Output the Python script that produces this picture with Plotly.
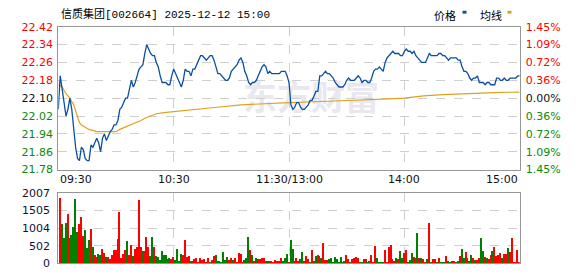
import plotly.graph_objects as go

W, H = 578, 276

# ---------------- data ----------------
title_text = "信质集团[002664] 2025-12-12 15:00"
prev_close = 22.10

# minute index 0..240 (09:30 .. 11:30/13:00 .. 15:00)
price = [
    22.05, 22.20, 22.14, 22.08, 22.02, 22.05, 22.10, 22.05, 21.95, 21.88,
    21.83, 21.82, 21.88, 21.87, 21.83, 21.82, 21.82, 21.89, 21.88, 21.90,
    21.92, 21.90, 21.86, 21.92, 21.94, 21.91, 21.93, 21.95, 21.96, 21.98,
    21.98, 22.00, 22.05, 22.06, 22.08, 22.10, 22.10, 22.14, 22.18, 22.15,
    22.17, 22.20, 22.23, 22.24, 22.25, 22.30, 22.34, 22.32, 22.30, 22.29,
    22.29, 22.26, 22.24, 22.20, 22.17, 22.17, 22.17, 22.16, 22.16, 22.20,
    22.23, 22.21, 22.19, 22.17, 22.15, 22.18, 22.23, 22.22, 22.22, 22.20,
    22.23, 22.23, 22.25, 22.27, 22.29, 22.29, 22.28, 22.27, 22.28, 22.29,
    22.29, 22.27, 22.24, 22.21, 22.21, 22.20, 22.19, 22.18, 22.18, 22.19,
    22.22, 22.23, 22.24, 22.25, 22.27, 22.28, 22.26, 22.22, 22.20, 22.17,
    22.16, 22.17, 22.17, 22.18, 22.20, 22.22, 22.24, 22.25, 22.24, 22.21,
    22.22, 22.21, 22.21, 22.21, 22.21, 22.21, 22.22, 22.22, 22.22, 22.20,
    22.17, 22.07, 22.05, 22.06, 22.08, 22.08, 22.06, 22.05, 22.05, 22.06,
    22.07, 22.09, 22.09, 22.11, 22.13, 22.13, 22.20, 22.20, 22.21, 22.22,
    22.21, 22.21, 22.20, 22.19, 22.17, 22.16, 22.15, 22.15, 22.15, 22.16,
    22.18, 22.19, 22.18, 22.18, 22.18, 22.19, 22.20, 22.19, 22.17, 22.18,
    22.18, 22.17, 22.17, 22.19, 22.22, 22.23, 22.23, 22.24, 22.23, 22.22,
    22.26, 22.28, 22.29, 22.30, 22.31, 22.30, 22.30, 22.30, 22.29, 22.29,
    22.31, 22.32, 22.31, 22.31, 22.30, 22.31, 22.29, 22.28, 22.27, 22.26,
    22.26, 22.26, 22.28, 22.30, 22.29, 22.29, 22.29, 22.29, 22.30, 22.30,
    22.29, 22.29, 22.28, 22.27, 22.28, 22.28, 22.28, 22.28, 22.27, 22.27,
    22.24, 22.22, 22.22, 22.21, 22.19, 22.18, 22.19, 22.19, 22.20, 22.17,
    22.17, 22.17, 22.16, 22.17, 22.17, 22.16, 22.16, 22.16, 22.19, 22.19,
    22.18, 22.18, 22.19, 22.18, 22.18, 22.19, 22.19, 22.19, 22.19, 22.20,
    22.20,
]
price_minutes = list(range(len(price)))

# average-price line, read at selected minutes
avg_minutes = [0, 2, 4, 6, 8, 9, 10, 11, 12, 14, 16, 20, 25, 30, 32, 35, 38, 41,
               43, 45, 48, 51, 55, 60, 80, 95, 107, 120, 140, 165, 172, 180,
               185, 190, 200, 215, 230, 240]
avg_price = [22.16, 22.15, 22.12, 22.10, 22.07, 22.04, 22.01, 21.99, 21.98, 21.97,
             21.96, 21.95, 21.95, 21.95, 21.96, 21.97, 21.98, 21.99, 22.00, 22.01,
             22.02, 22.03, 22.035, 22.04, 22.057, 22.07, 22.076, 22.08, 22.086,
             22.092, 22.097, 22.10, 22.105, 22.11, 22.116, 22.122, 22.126, 22.127]

# volume per minute 1..240 and direction (r = up, g = down)
volume = [
    1852, 1117, 735, 1144, 1416, 735, 799, 1026, 1825, 899,
    1117, 1308, 790, 953, 436, 654, 981, 454, 245, 191,
    272, 245, 409, 300, 191, 191, 109, 245, 381, 381,
    681, 1471, 136, 272, 381, 626, 245, 518, 218, 409,
    463, 1798, 463, 354, 354, 763, 463, 218, 763, 463,
    218, 191, 82, 354, 245, 245, 109, 136, 109, 191,
    82, 409, 54, 272, 245, 654, 191, 218, 54, 54,
    109, 136, 27, 163, 82, 109, 27, 136, 27, 82,
    218, 245, 54, 54, 27, 327, 82, 191, 82, 136,
    82, 163, 27, 300, 272, 27, 82, 163, 736, 381,
    245, 54, 136, 109, 109, 163, 163, 54, 54, 54,
    54, 27, 82, 54, 54, 136, 54, 136, 272, 30,
    654, 409, 54, 136, 54, 109, 327, 54, 218, 109,
    30, 381, 54, 218, 245, 218, 136, 572, 82, 82,
    109, 136, 27, 191, 109, 27, 191, 27, 54, 245,
    109, 27, 109, 163, 191, 163, 27, 27, 109, 109,
    27, 54, 245, 20, 490, 136, 27, 27, 27, 381,
    27, 463, 518, 109, 54, 163, 109, 354, 163, 300,
    381, 27, 82, 300, 191, 136, 872, 136, 163, 109,
    27, 109, 1144, 27, 109, 109, 27, 163, 27, 27,
    27, 218, 54, 27, 54, 54, 27, 54, 218, 409,
    163, 327, 163, 54, 245, 136, 82, 82, 163, 708,
    354, 191, 163, 109, 245, 354, 463, 218, 245, 300,
    136, 272, 272, 436, 327, 708, 20, 20, 381, 20,
]
direction_rows = [
    "rgggrrgggg", "rrrgggrgrr", "ggrrgrrrrr", "rrrrrgrrgr",
    "rrrgrrrggr", "ggggggrgrr", "ggggrrrrgr", "rrrrrrrrgr",
    "rgggggggrr", "grrrrrgggr", "grgrrrrggg", "rrrrrrgggr",
    "ggrrrggrrr", "grgggrgrrr", "gggggggggr", "rgrrrrggrr",
    "ggrrrggggr", "rrrrrgrggr", "rgggrrgrgr", "rgrgrrgrgg",
    "grggrrggrg", "grrggrgrrg", "grgrrgrrrr", "grrgrrrrrr",
]
vol_minutes = list(range(1, 241))

price_ticks = [21.78, 21.86, 21.94, 22.02, 22.10, 22.18, 22.26, 22.34, 22.42]
price_tick_labels = ["21.78", "21.86", "21.94", "22.02", "22.10", "22.18", "22.26", "22.34", "22.42"]
pct_tick_labels = ["1.45%", "1.09%", "0.72%", "0.36%", "0.00%", "0.36%", "0.72%", "1.09%", "1.45%"]
vol_ticks = [0, 502, 1004, 1505, 2007]
vol_tick_labels = ["0", "502", "1004", "1505", "2007"]
time_labels = ["09:30", "10:30", "11:30/13:00", "14:00", "15:00"]
time_label_minutes = [0, 60, 120, 180, 240]

# ---------------- styling ----------------
RED = "#ff0000"
GREEN = "#0a8a0a"
BLUE = "#0b4fa3"
ORANGE = "#e0a21e"
GRID = "#cfcfcf"
BORDER = "#969696"
FONT = "DejaVu Sans"

def tick_color(v):
    if v > prev_close + 1e-9:
        return RED
    if v < prev_close - 1e-9:
        return GREEN
    return "#111111"

left_text = ['<span style="color:%s">%s</span>' % (tick_color(v), s)
             for v, s in zip(price_ticks, price_tick_labels)]
right_text = ['<span style="color:%s">%s</span>' % (tick_color(v), s)
              for v, s in zip(price_ticks, pct_tick_labels)]

direction = "".join(direction_rows)
bar_colors = [RED if d == "r" else "#008000" for d in direction]

x0p, x1p = 58.3 / W, 519.7 / W
py0, py1 = 1 - 171.7 / H, 1 - 21.7 / H
vy0, vy1 = 1 - 270.0 / H, 1 - 196.3 / H

fig = go.Figure()

fig.add_trace(go.Scatter(x=avg_minutes, y=avg_price, mode="lines",
                         line=dict(color=ORANGE, width=1.2), xaxis="x", yaxis="y",
                         hoverinfo="skip", showlegend=False))
fig.add_trace(go.Scatter(x=price_minutes, y=price, mode="lines",
                         line=dict(color=BLUE, width=1.3), xaxis="x", yaxis="y",
                         hoverinfo="skip", showlegend=False))
fig.add_trace(go.Bar(x=vol_minutes, y=volume, marker=dict(color=bar_colors, line=dict(width=0)),
                     width=0.55, xaxis="x2", yaxis="y3", showlegend=False, hoverinfo="skip"))
# invisible trace to activate yaxis2
fig.add_trace(go.Scatter(x=[None], y=[None], xaxis="x", yaxis="y2", showlegend=False))

axis_common = dict(showgrid=True, gridcolor=GRID, griddash="dash", gridwidth=1,
                   showline=True, mirror=True, linecolor=BORDER, linewidth=1,
                   zeroline=False, ticks="", fixedrange=True)

fig.update_layout(
    width=W, height=H,
    margin=dict(l=0, r=0, t=0, b=0),
    paper_bgcolor="white", plot_bgcolor="white",
    showlegend=False,
    bargap=0,
    xaxis=dict(domain=[x0p, x1p], range=[0, 240], anchor="y",
               tickvals=[60, 120, 180], showticklabels=False, **axis_common),
    yaxis=dict(domain=[py0, py1], range=[21.78, 22.42], anchor="x",
               tickvals=price_ticks, ticktext=left_text,
               tickfont=dict(family=FONT, size=11), ticklabelstandoff=2, **axis_common),
    yaxis2=dict(overlaying="y", side="right", range=[21.78, 22.42], anchor="x",
                tickvals=price_ticks, ticktext=right_text, showgrid=False,
                showline=False, zeroline=False, ticks="",
                tickfont=dict(family=FONT, size=11), ticklabelstandoff=5),
    xaxis2=dict(domain=[x0p, x1p], range=[0, 240], anchor="y3",
                tickvals=[60, 120, 180], showticklabels=False, **axis_common),
    yaxis3=dict(domain=[vy0, vy1], range=[0, 2007], anchor="x2",
                tickvals=vol_ticks, ticktext=vol_tick_labels,
                tickfont=dict(family=FONT, size=11, color="#111133"), ticklabelstandoff=5,
                **axis_common),
)

annotations = []
anchors = ["left", "center", "center", "center", "right"]
for m, lab, a in zip(time_label_minutes, time_labels, anchors):
    annotations.append(dict(x=m, y=1 - 182.0 / H, xref="x", yref="paper", text=lab,
                            showarrow=False, xanchor=a, yanchor="middle",
                            font=dict(family=FONT, size=11, color="#111111")))
annotations.append(dict(x=58.5 / W, y=1 - 8.5 / H, xref="paper", yref="paper",
                        text=title_text, showarrow=False, xanchor="left", yanchor="middle",
                        font=dict(family="Liberation Mono, Noto Sans CJK SC", size=11, color="#000000")))
annotations.append(dict(x=432 / W, y=1 - 9 / H, xref="paper", yref="paper", text="价格",
                        showarrow=False, xanchor="left", yanchor="middle",
                        font=dict(family="Noto Sans CJK SC", size=11, color="#000000")))
annotations.append(dict(x=478 / W, y=1 - 9 / H, xref="paper", yref="paper", text="均线",
                        showarrow=False, xanchor="left", yanchor="middle",
                        font=dict(family="Noto Sans CJK SC", size=11, color="#000000")))
fig.update_layout(annotations=annotations)

shapes = [
    dict(type="rect", xref="paper", yref="paper", x0=462.5 / W, x1=466.5 / W,
         y0=1 - 8 / H, y1=1 - 5 / H, fillcolor=BLUE, line=dict(width=0)),
    dict(type="rect", xref="paper", yref="paper", x0=507.5 / W, x1=511.5 / W,
         y0=1 - 8 / H, y1=1 - 5 / H, fillcolor=ORANGE, line=dict(width=0)),
    # watermark
    dict(type="rect", xref="paper", yref="paper", x0=238 / W, x1=384 / W,
         y0=1 - 118 / H, y1=1 - 80 / H, line=dict(width=0), fillcolor="rgba(0,0,0,0)",
         layer="below",
         label=dict(text="<b>东方财富</b>", textposition="middle center",
                    font=dict(family="Noto Sans CJK SC", size=34, color="#e8e8ee"))),
]
fig.update_layout(shapes=shapes)

fig.write_html("out.html")
